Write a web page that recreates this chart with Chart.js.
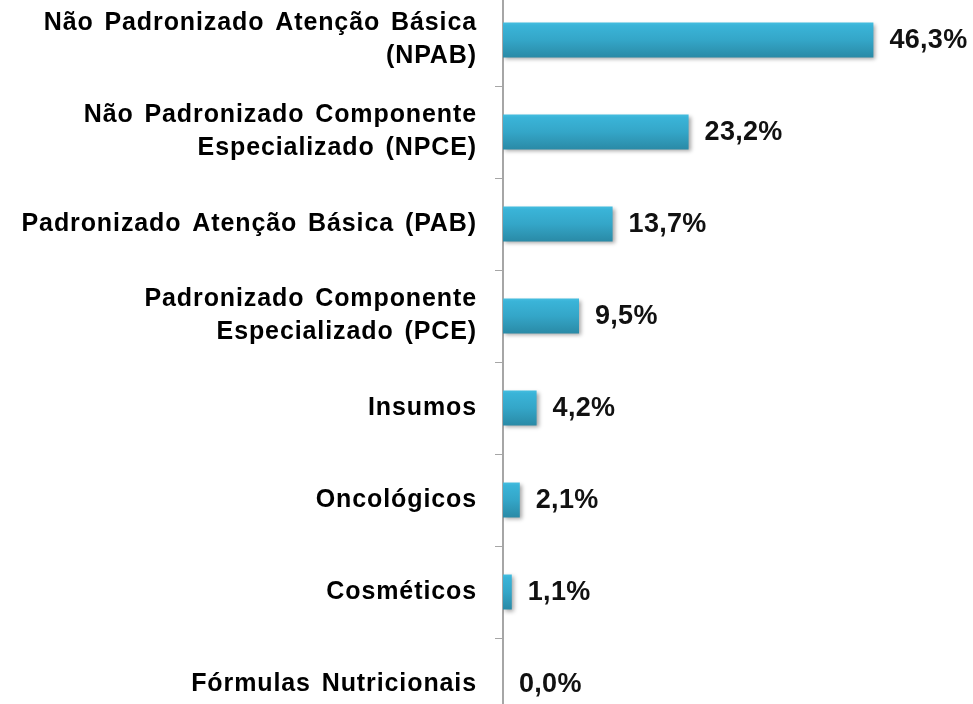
<!DOCTYPE html>
<html>
<head>
<meta charset="utf-8">
<script src="https://cdn.jsdelivr.net/npm/chart.js@4.4.0/dist/chart.umd.min.js"></script>
<style>
  html, body { margin: 0; padding: 0; background: #fff; overflow: hidden; }
  #wrap { width: 973px; height: 736px; margin-top: -6px; }
</style>
</head>
<body>
<div id="wrap"><canvas id="myChart" width="973" height="736"></canvas></div>
<script>
const categories = [
    ['Não Padronizado Atenção Básica', '(NPAB)'],
    ['Não Padronizado Componente', 'Especializado (NPCE)'],
    'Padronizado Atenção Básica (PAB)',
    ['Padronizado Componente', 'Especializado (PCE)'],
    'Insumos',
    'Oncológicos',
    'Cosméticos',
    'Fórmulas Nutricionais'
];
const shares = [46.3, 23.2, 13.7, 9.5, 4.2, 2.1, 1.1, 0.0];

const AXIS_X = 503;
const BAR_FRACTION = 0.38;

function barGradient(context) {
    const chart = context.chart;
    const yScale = chart.scales.y;
    if (!yScale || context.dataIndex === undefined) return '#35A9CC';
    const yc = yScale.getPixelForValue(context.dataIndex);
    const h = (yScale.height / categories.length) * BAR_FRACTION;
    if (!isFinite(yc) || !isFinite(h) || h <= 0) return '#35A9CC';
    const g = chart.ctx.createLinearGradient(0, yc - h / 2, 0, yc + h / 2);
    g.addColorStop(0, '#45BEE0');
    g.addColorStop(0.08, '#3AB4D8');
    g.addColorStop(0.5, '#34A6C8');
    g.addColorStop(1, '#2A8AA6');
    return g;
}

// wider letter and word spacing, like the original labels
const textSpacing = {
    id: 'textSpacing',
    beforeUpdate(chart) {
        chart.ctx.letterSpacing = '0.9px';
        chart.ctx.wordSpacing = '3px';
    },
    beforeDraw(chart) {
        chart.ctx.letterSpacing = '0.9px';
        chart.ctx.wordSpacing = '3px';
    }
};

const barShadow = {
    id: 'barShadow',
    beforeDatasetsDraw(chart) {
        const c = chart.ctx;
        c.save();
        c.shadowColor = 'rgba(0,0,0,0.35)';
        c.shadowBlur = 4;
        c.shadowOffsetX = 2;
        c.shadowOffsetY = 2;
    },
    afterDatasetsDraw(chart) {
        chart.ctx.restore();
    }
};

const valueLabels = {
    id: 'valueLabels',
    afterDatasetsDraw(chart) {
        const c = chart.ctx;
        const meta = chart.getDatasetMeta(0);
        c.save();
        c.letterSpacing = '0.3px';
        c.font = 'bold 27px "Liberation Sans", Arial, sans-serif';
        c.fillStyle = '#111';
        c.textAlign = 'left';
        c.textBaseline = 'middle';
        meta.data.forEach(function(bar, i) {
            const txt = shares[i].toFixed(1).replace('.', ',') + '%';
            c.fillText(txt, bar.x + 16, bar.y + 1);
        });
        c.restore();
    }
};

const ctx = document.getElementById('myChart').getContext('2d');
const myChart = new Chart(ctx, {
    type: 'bar',
    data: {
        labels: categories,
        datasets: [{
            data: shares,
            backgroundColor: barGradient,
            borderWidth: 0,
            barPercentage: 1,
            categoryPercentage: BAR_FRACTION
        }]
    },
    plugins: [textSpacing, barShadow, valueLabels],
    options: {
        indexAxis: 'y',
        responsive: false,
        animation: false,
        layout: { padding: { left: 0, right: 6, top: 0, bottom: 0 } },
        scales: {
            x: {
                display: false,
                min: 0,
                max: 58
            },
            y: {
                afterFit: function(scale) {
                    scale.width = AXIS_X;
                    scale.paddingTop = 0;
                    scale.paddingBottom = 0;
                },
                grid: {
                    drawOnChartArea: false,
                    drawTicks: true,
                    tickLength: 8,
                    color: '#A6A6A6',
                    lineWidth: 1
                },
                border: {
                    display: true,
                    color: '#A6A6A6',
                    width: 2
                },
                ticks: {
                    padding: 18,
                    color: '#000',
                    font: {
                        family: '"Liberation Sans", Arial, sans-serif',
                        size: 25,
                        weight: 'bold',
                        lineHeight: 1.32
                    }
                }
            }
        },
        plugins: {
            legend: { display: false },
            tooltip: { enabled: false }
        }
    }
});
</script>
</body>
</html>
